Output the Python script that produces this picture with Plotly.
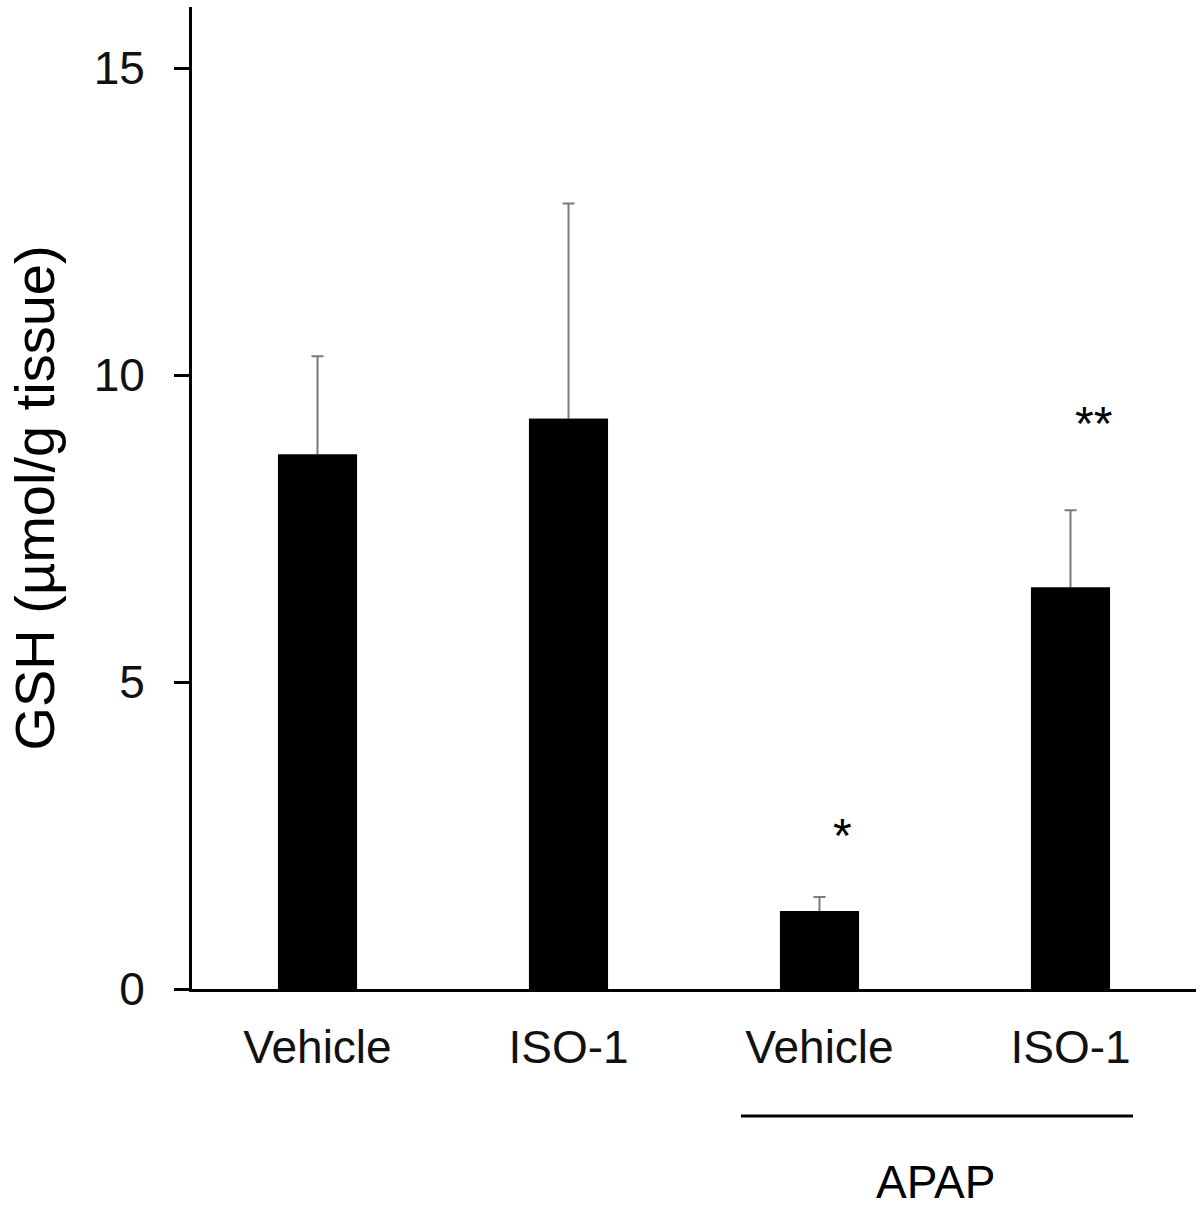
import plotly.graph_objects as go

# Data
categories = ["Vehicle", "ISO-1", "Vehicle", "ISO-1"]
gsh_mean = [8.71, 9.29, 1.27, 6.54]
gsh_err = [1.60, 3.51, 0.23, 1.26]
sig_labels = ["", "", "*", "**"]
sig_heights = [None, None, 2.50, 9.22]
group_label = "APAP"
y_ticks = [0, 5, 10, 15]

x_pos = list(range(len(categories)))
FONT = "Arial, Liberation Sans, sans-serif"

fig = go.Figure()
# Bars carrying the (upper) error bars; lower part hidden under the overlay bars
fig.add_trace(go.Bar(
    x=x_pos, y=gsh_mean, width=0.315,
    marker=dict(color="black", line=dict(width=0)),
    error_y=dict(type="data", symmetric=False, array=gsh_err, arrayminus=gsh_mean,
                 color="#7a7a7a", thickness=2, width=6),
    hoverinfo="skip", showlegend=False,
))
fig.add_trace(go.Bar(
    x=x_pos, y=gsh_mean, width=0.315,
    marker=dict(color="black", line=dict(width=0)),
    showlegend=False,
))

for i, (lab, h) in enumerate(zip(sig_labels, sig_heights)):
    if lab:
        fig.add_annotation(x=x_pos[i], y=h, xref="x", yref="y", text=lab,
                           showarrow=False, xshift=23, yanchor="middle",
                           font=dict(family=FONT, size=48, color="black"))

# APAP group line and label
fig.add_shape(type="line", xref="x", yref="paper", x0=1.687, x1=3.249,
              y0=-0.1293, y1=-0.1293, line=dict(color="black", width=3))
fig.add_annotation(x=2.464, y=-0.1965, xref="x", yref="paper", text=group_label,
                   showarrow=False, yanchor="middle",
                   font=dict(family=FONT, size=46, color="black"))

fig.update_layout(
    width=1204, height=1208,
    margin=dict(l=192, r=8, t=7, b=219),
    plot_bgcolor="white", paper_bgcolor="white",
    barmode="overlay",
    font=dict(family=FONT, size=46, color="black"),
    xaxis=dict(range=[-0.5, 3.5], tickvals=x_pos, ticktext=categories,
               showline=True, linecolor="black", linewidth=3, ticks="",
               showgrid=False, zeroline=False, ticklabelstandoff=16,
               tickfont=dict(family=FONT, size=46, color="#111111")),
    yaxis=dict(range=[0, 16], tickvals=y_ticks, showline=True, linecolor="black",
               linewidth=3, ticks="outside", ticklen=15, tickwidth=3,
               tickcolor="black", showgrid=False, zeroline=False,
               ticklabelstandoff=20,
               tickfont=dict(family=FONT, size=46, color="#111111")),
)
fig.update_yaxes(title=dict(text="GSH (µmol/g tissue)", standoff=22,
                            font=dict(family=FONT, size=56, color="black")))

fig.write_html("out.html")
